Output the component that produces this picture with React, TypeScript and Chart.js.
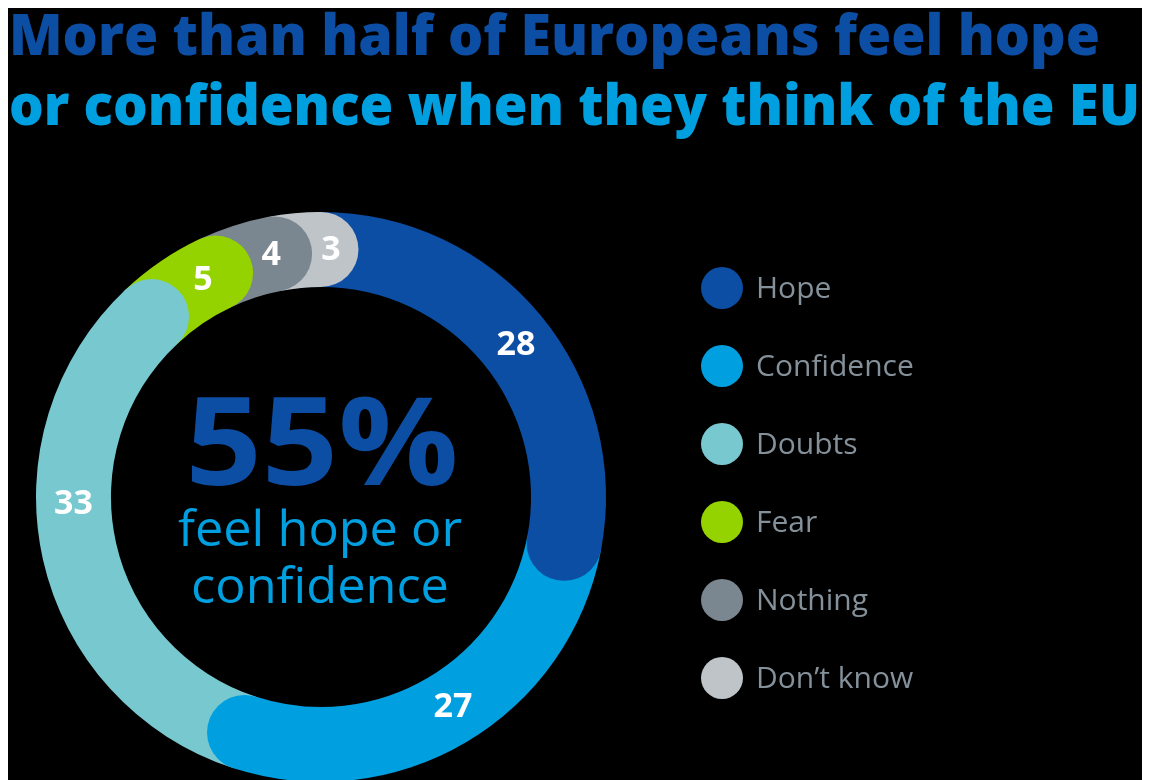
import React, { useEffect, useRef } from "react";
import { Chart, registerables } from "chart.js";

Chart.register(...registerables);

const TITLE_LINE_1 = "More than half of Europeans feel hope";
const TITLE_LINE_2 = "or confidence when they think of the EU";
const CATEGORIES = ["Hope", "Confidence", "Doubts", "Fear", "Nothing", "Don\u2019t know"];
const VALUES = [28, 27, 33, 5, 4, 3];
const COLORS = ["#0c4ea3", "#009fe0", "#78c8d0", "#95d300", "#7b8790", "#bec4c8"];
const CENTER_BIG = "55%";
const CENTER_LINES = ["feel hope or", "confidence"];
// small angular nudges (degrees) for the value labels, as in the reference
const LABEL_SHIFT_DEG = [1.6, -1.6, 11.2, 5.7, 6.4, 7.7];

const W = 1134;
const H = 800;
const FONT = "'Open Sans', 'Noto Sans', sans-serif";

// draw text stretched/condensed horizontally to a target width
function fillFit(ctx: CanvasRenderingContext2D, text: string, x: number, y: number, target: number, align: "left" | "center") {
  const w = ctx.measureText(text).width;
  const s = target / w;
  ctx.save();
  ctx.textAlign = "left";
  const left = align === "center" ? x - target / 2 : x;
  ctx.translate(left, y);
  ctx.scale(s, 1);
  ctx.fillText(text, 0, 0);
  ctx.restore();
}

const decorPlugin = {
  id: "decor",
  beforeDraw(chart: any) {
    const ctx = chart.ctx;
    ctx.save();
    ctx.fillStyle = "#000";
    ctx.fillRect(0, 0, chart.width, chart.height);
    // title
    ctx.textBaseline = "alphabetic";
    ctx.font = `800 57px ${FONT}`;
    ctx.fillStyle = COLORS[0];
    fillFit(ctx, TITLE_LINE_1, 1, 47, 1091, "left");
    ctx.fillStyle = COLORS[1];
    fillFit(ctx, TITLE_LINE_2, 1, 117, 1131, "left");
    // legend
    const labels = chart.data.labels as string[];
    const bg = chart.data.datasets[0].backgroundColor as string[];
    labels.forEach((lab, i) => {
      const cy = 280 + i * 78;
      ctx.beginPath();
      ctx.arc(714, cy, 21, 0, Math.PI * 2);
      ctx.fillStyle = bg[i];
      ctx.fill();
      ctx.fillStyle = "#85919a";
      ctx.font = `400 30px ${FONT}`;
      ctx.textAlign = "left";
      ctx.textBaseline = "middle";
      ctx.fillText(lab, 748, cy + 1);
    });
    ctx.restore();
  },
  afterDatasetsDraw(chart: any) {
    const ctx = chart.ctx;
    const meta = chart.getDatasetMeta(0);
    ctx.save();
    // round caps at the end of each segment (drawn last-to-first so earlier caps sit on top)
    const arcs = meta.data.slice().reverse();
    arcs.forEach((arc: any) => {
      const p = arc.getProps(["x", "y", "endAngle", "innerRadius", "outerRadius"], true);
      const mid = (p.innerRadius + p.outerRadius) / 2;
      const r = (p.outerRadius - p.innerRadius) / 2;
      ctx.beginPath();
      ctx.arc(p.x + mid * Math.cos(p.endAngle), p.y + mid * Math.sin(p.endAngle), r, 0, Math.PI * 2);
      ctx.fillStyle = arc.options.backgroundColor;
      ctx.fill();
    });
    // value labels
    ctx.fillStyle = "#ffffff";
    ctx.font = `700 34px ${FONT}`;
    ctx.textAlign = "center";
    ctx.textBaseline = "middle";
    const values = chart.data.datasets[0].data as number[];
    meta.data.forEach((arc: any, i: number) => {
      const p = arc.getProps(["x", "y", "startAngle", "endAngle", "innerRadius", "outerRadius"], true);
      const mid = (p.innerRadius + p.outerRadius) / 2;
      const a = (p.startAngle + p.endAngle) / 2 + (LABEL_SHIFT_DEG[i] * Math.PI) / 180;
      ctx.fillText(String(values[i]), p.x + mid * Math.cos(a), p.y + mid * Math.sin(a) + 1);
    });
    // center text
    const c = meta.data[0];
    ctx.fillStyle = COLORS[0];
    ctx.textBaseline = "alphabetic";
    ctx.font = `700 122px ${FONT}`;
    fillFit(ctx, CENTER_BIG, c.x + 1, 477, 273, "center");
    ctx.fillStyle = COLORS[1];
    ctx.font = `400 49px ${FONT}`;
    fillFit(ctx, CENTER_LINES[0], c.x - 1, 538, 284, "center");
    ctx.textAlign = "center";
    ctx.font = `400 49px ${FONT}`;
    const w0 = ctx.measureText(CENTER_LINES[0]).width;
    const s = 284 / w0;
    const w1 = ctx.measureText(CENTER_LINES[1]).width * s;
    fillFit(ctx, CENTER_LINES[1], c.x - 1, 595, w1, "center");
    ctx.restore();
  },
};

export default function App() {
  const ref = useRef<HTMLCanvasElement>(null);
  useEffect(() => {
    if (!ref.current) return;
    const chart = new Chart(ref.current, {
      type: "doughnut",
      data: {
        labels: CATEGORIES,
        datasets: [
          {
            data: VALUES,
            backgroundColor: COLORS,
            borderWidth: 0,
          },
        ],
      },
      options: {
        responsive: false,
        animation: false,
        rotation: 0,
        cutout: "73.7%",
        layout: { padding: { left: 28, top: 204, right: W - 28 - 570, bottom: H - 204 - 570 } },
        plugins: { legend: { display: false }, tooltip: { enabled: false }, title: { display: false } },
      },
      plugins: [decorPlugin],
    });
    return () => chart.destroy();
  }, []);
  return (
    <div style={{ width: W, height: H, background: "#000" }}>
      <canvas ref={ref} width={W} height={H} style={{ display: "block" }} />
    </div>
  );
}
